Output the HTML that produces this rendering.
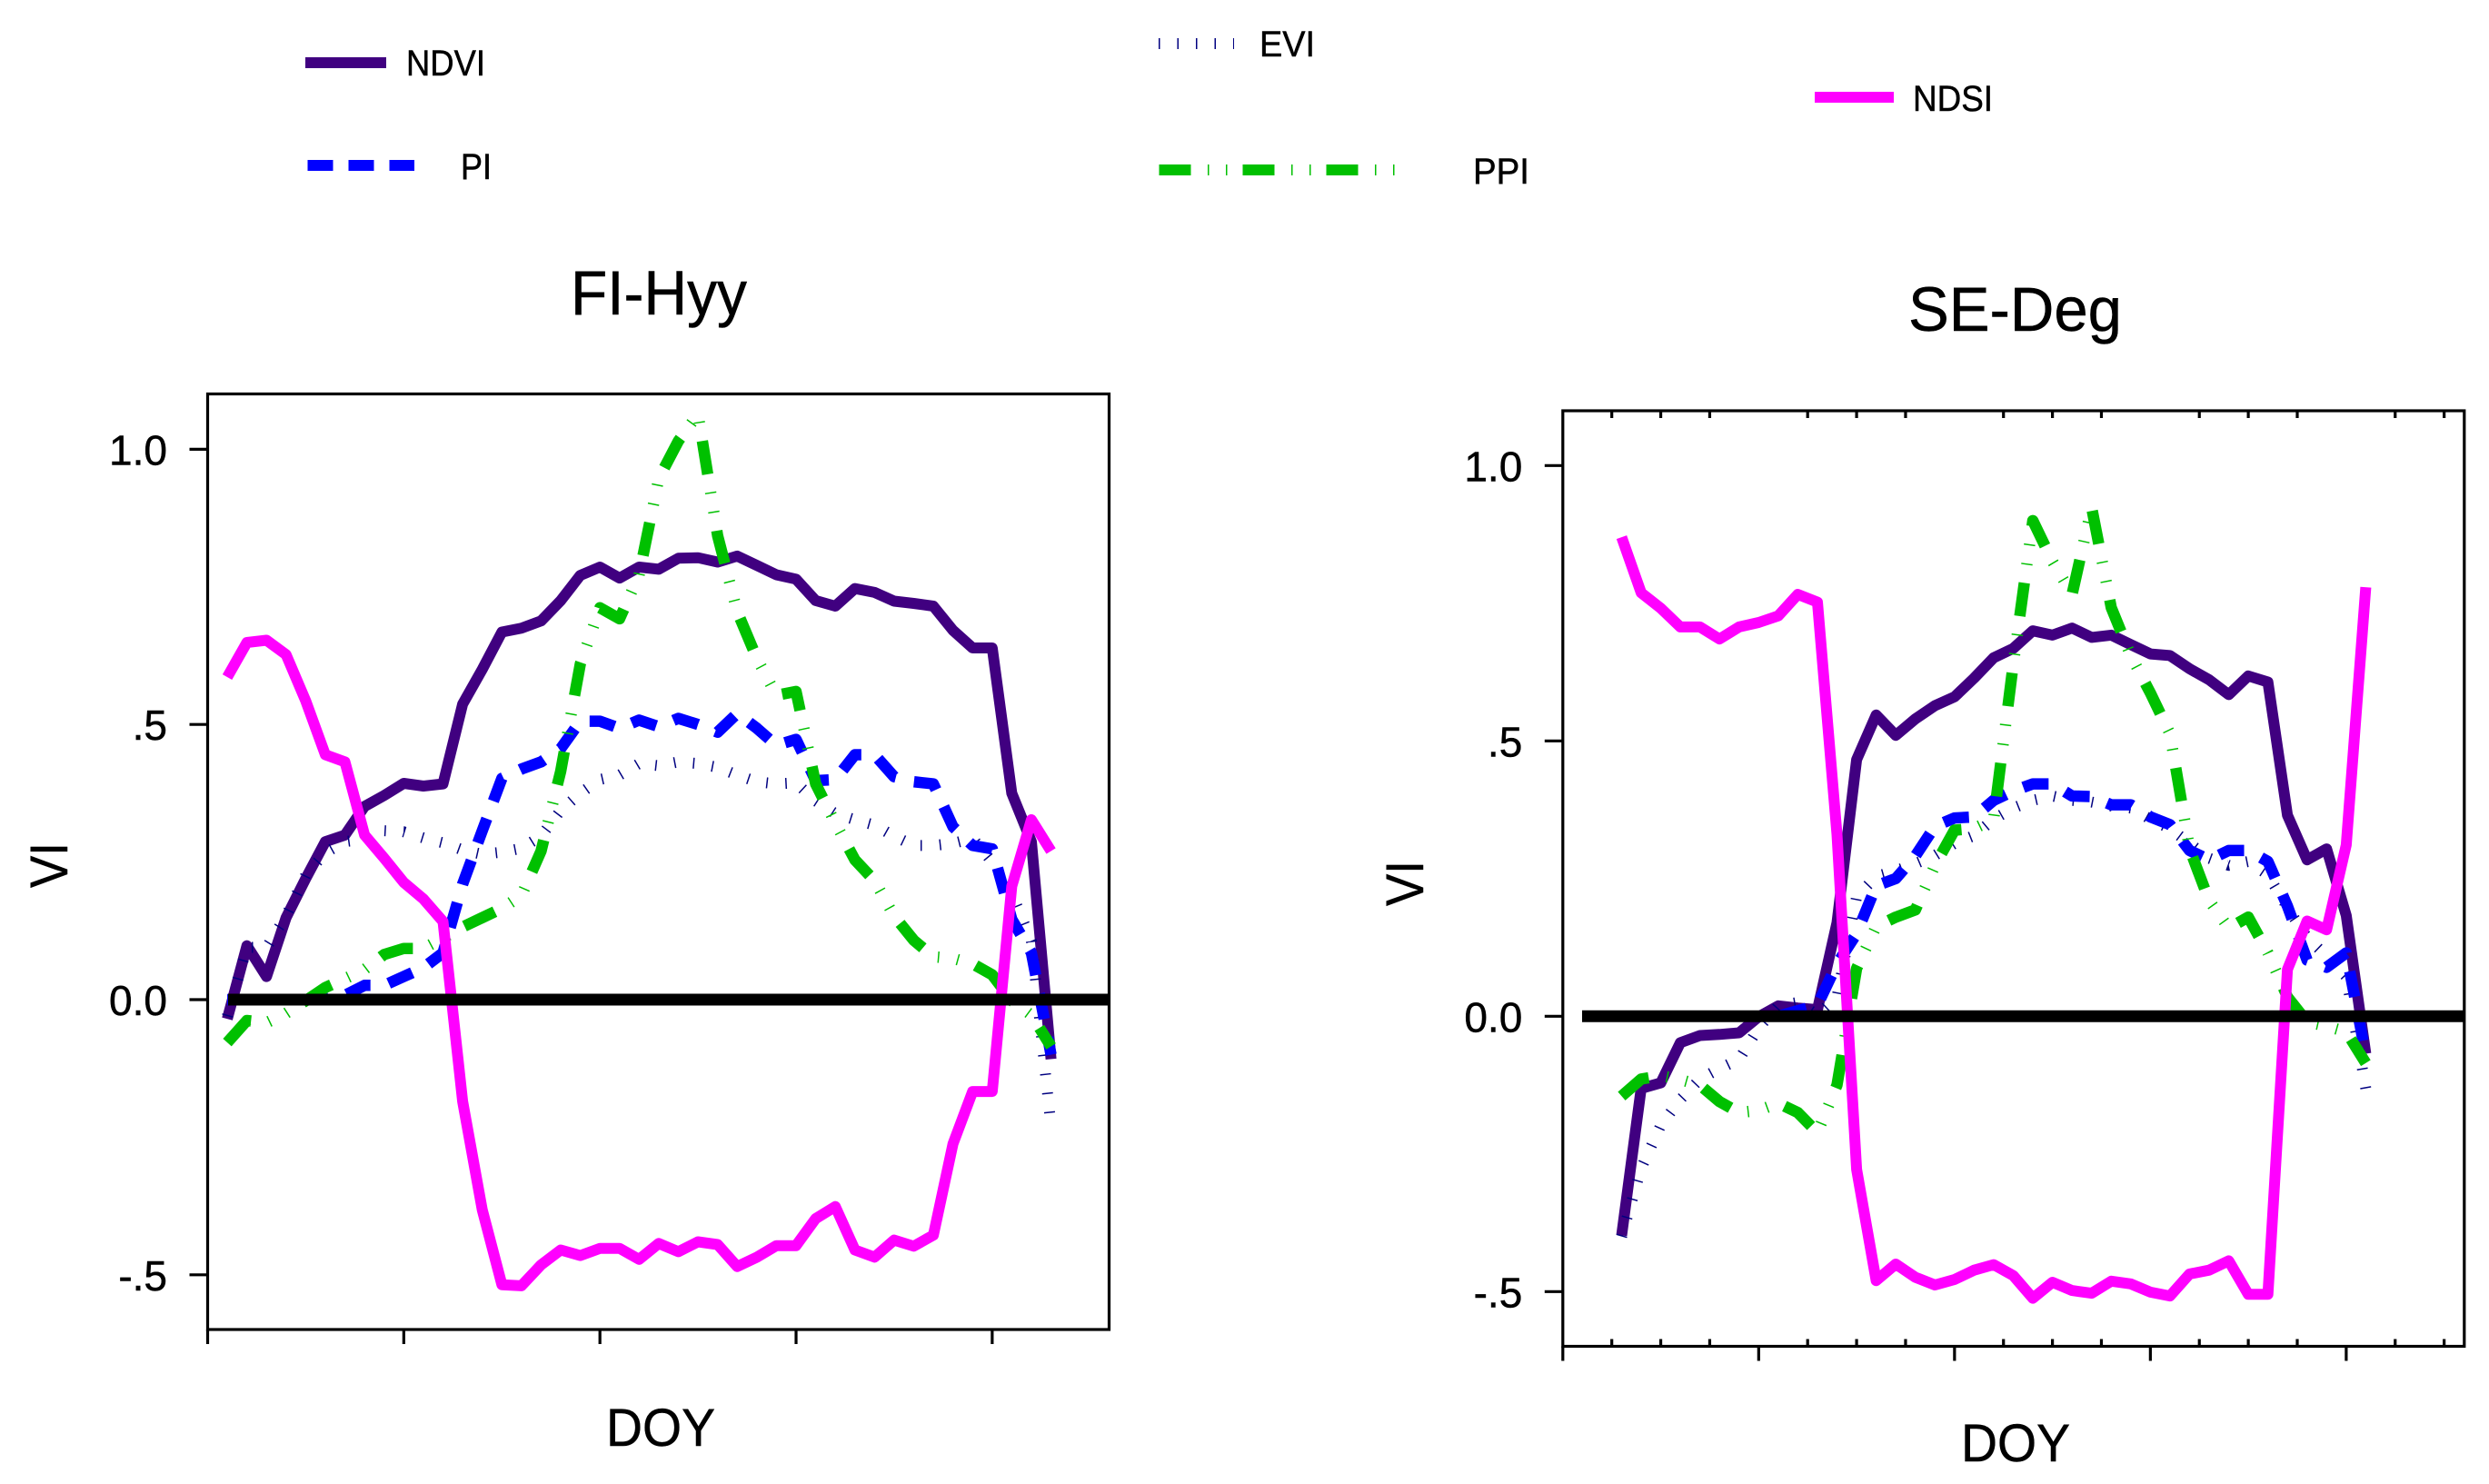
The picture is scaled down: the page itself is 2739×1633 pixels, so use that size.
<!DOCTYPE html>
<html lang="en">
<head>
<meta charset="utf-8">
<title>VI seasonal curves FI-Hyy and SE-Deg</title>
<style>
html,body{margin:0;padding:0;background:#fff;}
svg{display:block;}
text{font-family:"Liberation Sans",Arial,sans-serif;fill:#000;stroke:#000;stroke-width:.5px;}
</style>
</head>
<body>
<svg id="figure" width="2739" height="1633" viewBox="0 0 2739 1633" xmlns="http://www.w3.org/2000/svg">
  <rect x="0" y="0" width="2739" height="1633" fill="#fff"/>

  <g>
    <g>
      <line x1="336" y1="69" x2="425" y2="69" stroke="#400080" stroke-width="12"/>
      <text x="447" y="83" font-size="40" textLength="87" lengthAdjust="spacingAndGlyphs">NDVI</text>
    </g>
    <g>
      <line x1="1275" y1="48" x2="1358" y2="48" stroke="#000080" stroke-width="12" stroke-dasharray="1.5 19"/>
      <text x="1386" y="62" font-size="40" textLength="61" lengthAdjust="spacingAndGlyphs">EVI</text>
    </g>
    <g>
      <line x1="1997" y1="107" x2="2084" y2="107" stroke="#ff00ff" stroke-width="12"/>
      <text x="2105" y="122" font-size="40" textLength="88" lengthAdjust="spacingAndGlyphs">NDSI</text>
    </g>
    <g>
      <line x1="338.500" y1="182" x2="456" y2="182" stroke="#0000ff" stroke-width="12" stroke-dasharray="28 17"/>
      <text x="507" y="197" font-size="40" textLength="34" lengthAdjust="spacingAndGlyphs">PI</text>
    </g>
    <g>
      <line x1="1275.500" y1="187" x2="1537" y2="187" stroke="#00c000" stroke-width="12" stroke-dasharray="35 18.500 1.500 18.500 1.500 17"/>
      <text x="1621" y="202" font-size="40" textLength="62" lengthAdjust="spacingAndGlyphs">PPI</text>
    </g>
  </g>

  <text x="628" y="346" font-size="69" textLength="194" lengthAdjust="spacingAndGlyphs">FI-Hyy</text>
  <text x="2100" y="364" font-size="69" textLength="235" lengthAdjust="spacingAndGlyphs">SE-Deg</text>

  <g id="panel-left"></g>
  <g id="panel-right"></g>

  <text x="667" y="1591" font-size="58" textLength="120" lengthAdjust="spacingAndGlyphs">DOY</text>
  <text x="2158" y="1608" font-size="58" textLength="120" lengthAdjust="spacingAndGlyphs">DOY</text>
  <text transform="translate(74,977) rotate(-90)" font-size="58" textLength="50" lengthAdjust="spacingAndGlyphs">VI</text>
  <text transform="translate(1566,997) rotate(-90)" font-size="58" textLength="50" lengthAdjust="spacingAndGlyphs">VI</text>
</svg>

<script>
// ---------- FI-Hyy data ----------
const leftDoy = [8,16,24,32,40,48,56,64,72,80,88,96,104,112,120,128,136,144,152,160,168,176,184,192,200,208,216,224,232,240,248,256,264,272,280,288,296,304,312,320,328,336,344];
const leftNdvi = [-.035,.098,.042,.149,.22,.287,.299,.351,.371,.393,.388,.392,.537,.6,.668,.675,.688,.725,.771,.786,.766,.786,.782,.802,.803,.795,.806,.789,.772,.764,.725,.715,.747,.74,.724,.72,.715,.671,.639,.639,.375,.287,-.108];
const leftEvi = [-.03,.095,.095,.152,.226,.267,.287,.292,.307,.305,.294,.285,.272,.264,.268,.275,.297,.344,.375,.4,.408,.429,.425,.432,.429,.422,.408,.396,.392,.394,.361,.338,.327,.317,.297,.28,.28,.284,.293,.25,.193,.106,-.23];
const leftPi = [0,0,0,0,0,.002,.008,.026,.026,.042,.058,.085,.21,.307,.402,.419,.432,.456,.506,.506,.493,.508,.496,.511,.5,.486,.52,.493,.462,.473,.398,.4,.445,.445,.405,.396,.392,.314,.28,.274,.146,.085,-.1];
const leftPpi = [-.078,-.038,-.042,-.025,-.002,.022,.038,.055,.082,.093,.093,.112,.132,.149,.166,.189,.27,.415,.61,.712,.692,.772,.947,1.015,1.064,.843,.705,.62,.553,.56,.392,.321,.254,.216,.152,.108,.078,.075,.065,.045,-.002,-.028,-.085];
const leftNdsi = [.586,.649,.653,.627,.543,.445,.432,.299,.257,.213,.183,.142,-.185,-.382,-.518,-.52,-.482,-.455,-.465,-.452,-.452,-.472,-.443,-.458,-.44,-.445,-.485,-.468,-.447,-.447,-.398,-.376,-.455,-.468,-.437,-.448,-.428,-.262,-.167,-.167,.206,.327,.27];

// ---------- SE-Deg data ----------
const rightDoy = [24,32,40,48,56,64,72,80,88,96,104,112,120,128,136,144,152,160,168,176,184,192,200,208,216,224,232,240,248,256,264,272,280,288,296,304,312,320,328];
const rightNdvi = [-.398,-.131,-.121,-.048,-.035,-.033,-.03,-.001,.019,.015,.012,.17,.466,.547,.51,.54,.564,.58,.614,.651,.668,.7,.692,.705,.688,.692,.675,.658,.655,.631,.611,.584,.618,.607,.365,.284,.304,.183,-.068];
const rightEvi = [-.4,-.276,-.198,-.151,-.114,-.095,-.078,-.021,.019,.025,.002,.035,.217,.254,.264,.277,.292,.314,.328,.358,.378,.392,.4,.392,.389,.382,.378,.358,.341,.314,.287,.274,.281,.257,.197,.143,.109,.072,-.131];
const rightPi = [0,0,0,0,0,0,0,0,0,.01,.02,.095,.15,.237,.25,.291,.345,.36,.362,.392,.409,.422,.422,.4,.399,.384,.384,.362,.348,.301,.284,.301,.301,.281,.2,.102,.089,.115,-.07];
const rightPpi = [-.145,-.114,-.108,-.115,-.125,-.155,-.175,-.171,-.158,-.175,-.211,-.125,.087,.163,.18,.193,.274,.338,.341,.358,.64,.9,.826,.766,.924,.742,.655,.587,.513,.304,.21,.16,.18,.115,.035,-.01,-.018,-.028,-.085];
const rightNdsi = [.87,.769,.741,.707,.707,.685,.707,.715,.727,.766,.752,.33,-.278,-.48,-.45,-.474,-.488,-.478,-.461,-.451,-.471,-.512,-.483,-.498,-.503,-.481,-.486,-.501,-.508,-.468,-.461,-.444,-.505,-.505,.085,.173,.157,.311,.779];

// ---------- axis tick values ----------
const yTickValues = [1, .5, 0, -.5];
const yTickLabels = ["1.0", ".5", "0.0", "-.5"];
const xMajorTicks = [0, 80, 160, 240, 320];
const rightMinorTicks = [20,40,60,100,120,140,180,200,220,260,280,300,340,360];

const NS = "http://www.w3.org/2000/svg";
function mk(parent, tag, attrs) {
  const el = document.createElementNS(NS, tag);
  for (const k in attrs) el.setAttribute(k, attrs[k]);
  parent.appendChild(el);
  return el;
}

function drawPanel(group, cfg) {
  const xScale = d => cfg.left + cfg.pxPerDay * d;
  const yScale = v => cfg.zeroY - cfg.pxPerUnit * v;

  function drawSeries(name, xs, ys, style) {
    const pts = xs.map((d, i) => xScale(d).toFixed(1) + "," + yScale(ys[i]).toFixed(1)).join(" ");
    const line = mk(group, "polyline", Object.assign({points: pts, fill: "none", "stroke-linejoin": "round", "stroke-linecap": "butt"}, style));
    
    
  }

  drawSeries('series-ndvi', cfg.doy, cfg.ndvi, {stroke: "#400080", "stroke-width": 12});
  drawSeries('series-evi', cfg.doy, cfg.evi, {stroke: "#000080", "stroke-width": 12, "stroke-dasharray": "1.5 19.5"});
  drawSeries('series-pi', cfg.doy, cfg.pi, {stroke: "#0000ff", "stroke-width": 12.5, "stroke-dasharray": "28.5 20.5", "stroke-dashoffset": cfg.piOffset});
  drawSeries('series-ppi', cfg.doy, cfg.ppi, {stroke: "#00c000", "stroke-width": 12.5, "stroke-dasharray": "37 20 1.5 20 1.5 20"});
  drawSeries('series-ndsi', cfg.doy, cfg.ndsi, {stroke: "#ff00ff", "stroke-width": 12});

  const zero = mk(group, "line", {x1: cfg.zeroStart, y1: yScale(0), x2: cfg.right, y2: yScale(0), stroke: "#000", "stroke-width": 13});
  
  

  const frame = mk(group, "rect", {x: cfg.left, y: cfg.top, width: cfg.right - cfg.left, height: cfg.bottom - cfg.top, fill: "none", stroke: "#000", "stroke-width": 3.2});
  
  

  yTickValues.forEach((v, i) => {
    const tick = mk(group, "line", {x1: cfg.left - 20, y1: yScale(v), x2: cfg.left, y2: yScale(v), stroke: "#000", "stroke-width": 3.2});
    
    
    const label = mk(group, "text", {x: cfg.left - 44.5, y: yScale(v) + 17, "font-size": 46, "text-anchor": "end"});
    label.textContent = yTickLabels[i];
    
    
  });

  xMajorTicks.forEach(d => {
    const tick = mk(group, "line", {x1: xScale(d), y1: cfg.bottom, x2: xScale(d), y2: cfg.bottom + 16, stroke: "#000", "stroke-width": 3.2});
    
    
  });

  cfg.minor.forEach(d => {
    const bottomTick = mk(group, "line", {x1: xScale(d), y1: cfg.bottom, x2: xScale(d), y2: cfg.bottom - 8, stroke: "#000", "stroke-width": 3.2});
    
    
    const topTick = mk(group, "line", {x1: xScale(d), y1: cfg.top, x2: xScale(d), y2: cfg.top + 8, stroke: "#000", "stroke-width": 3.2});
    
    
  });
}

drawPanel(document.getElementById("panel-left"), {
  left: 228.5, right: 1220.5, top: 433.5, bottom: 1463,
  pxPerDay: 2.698, pxPerUnit: 605.6, zeroY: 1100, zeroStart: 251, piOffset: 15,
  doy: leftDoy, ndvi: leftNdvi, evi: leftEvi, pi: leftPi, ppi: leftPpi, ndsi: leftNdsi,
  minor: []
});
drawPanel(document.getElementById("panel-right"), {
  left: 1719.8, right: 2711.8, top: 452, bottom: 1481.5,
  pxPerDay: 2.694, pxPerUnit: 606, zeroY: 1118.3, zeroStart: 1741, piOffset: 20,
  doy: rightDoy, ndvi: rightNdvi, evi: rightEvi, pi: rightPi, ppi: rightPpi, ndsi: rightNdsi,
  minor: rightMinorTicks
});
</script>
</body>
</html>
